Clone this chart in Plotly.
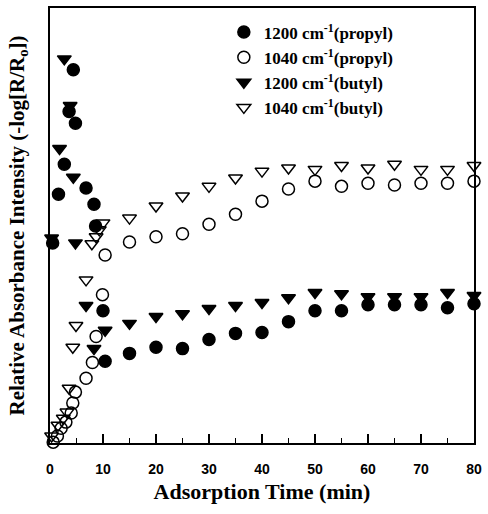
import plotly.graph_objects as go

# Adsorption time (min) and relative absorbance intensity (arbitrary units)
t_p1200 = [0.5, 1.6, 2.7, 3.6, 4.4, 4.8, 6.8, 8.3, 8.6, 10, 10.4, 15, 20, 25, 30, 35, 40, 45, 50, 55, 60, 65, 70, 75, 80]
y_p1200 = [0.460, 0.572, 0.641, 0.762, 0.858, 0.735, 0.586, 0.549, 0.499, 0.304, 0.188, 0.206, 0.220, 0.217,
           0.238, 0.252, 0.254, 0.279, 0.304, 0.304, 0.318, 0.318, 0.318, 0.311, 0.320]

t_p1040 = [0.6, 1.4, 2.1, 3, 4, 4.3, 4.8, 6.8, 8, 8.7, 9.9, 10.4, 15, 20, 25, 30, 35, 40, 45, 50, 55, 60, 65, 70, 75, 80]
y_p1040 = [0.002, 0.016, 0.034, 0.048, 0.069, 0.092, 0.117, 0.149, 0.185, 0.245, 0.341, 0.432, 0.462, 0.474,
           0.481, 0.503, 0.526, 0.556, 0.584, 0.602, 0.590, 0.597, 0.593, 0.597, 0.597, 0.602]

t_b1200 = [0.3, 1.8, 2.7, 3.8, 4.4, 4.8, 6.8, 8.3, 10.4, 15, 20, 25, 30, 35, 40, 45, 50, 55, 60, 65, 70, 75, 80]
y_b1200 = [0.471, 0.677, 0.883, 0.776, 0.611, 0.460, 0.316, 0.217, 0.259, 0.275, 0.291, 0.297, 0.309, 0.316,
           0.323, 0.334, 0.346, 0.343, 0.336, 0.336, 0.336, 0.346, 0.339]

t_b1040 = [0.3, 1.5, 2.5, 3.2, 3.6, 4.3, 4.9, 6.8, 7.9, 8.7, 9.3, 10.0, 15, 20, 25, 30, 35, 40, 45, 50, 55, 60, 65, 70, 75, 80]
y_b1040 = [0.016, 0.041, 0.057, 0.071, 0.126, 0.220, 0.270, 0.375, 0.458, 0.474, 0.490, 0.506, 0.517, 0.545,
           0.568, 0.590, 0.609, 0.625, 0.632, 0.629, 0.638, 0.632, 0.641, 0.629, 0.629, 0.638]

names = ["1200 cm<sup>-1</sup>(propyl)", "1040 cm<sup>-1</sup>(propyl)",
         "1200 cm<sup>-1</sup>(butyl)", "1040 cm<sup>-1</sup>(butyl)"]

x_ticks = [0, 10, 20, 30, 40, 50, 60, 70, 80]
x_minor = [5, 15, 25, 35, 45, 55, 65, 75]

series = [
    (t_p1200, y_p1200, "circle"),
    (t_p1040, y_p1040, "circle-open"),
    (t_b1200, y_b1200, "triangle-down"),
    (t_b1040, y_b1040, "triangle-down-open"),
]

fig = go.Figure()
for (tx, ty, sym), nm in zip(series, names):
    fig.add_trace(go.Scatter(
        x=tx, y=ty, mode="markers", name=nm, cliponaxis=False,
        marker=dict(symbol=sym, size=12, color="black", line=dict(color="black", width=1.5)),
    ))

fig.update_layout(
    width=488, height=514,
    margin=dict(l=50, r=10, t=6, b=71),
    paper_bgcolor="white", plot_bgcolor="white",
    font=dict(family="Liberation Serif", color="black"),
    showlegend=True,
    legend=dict(x=0.41, y=0.985, xanchor="left", yanchor="top",
                bgcolor="rgba(0,0,0,0)",
                font=dict(size=17, family="Liberation Serif", weight="bold"),
                tracegroupgap=0, itemwidth=30),
    xaxis=dict(
        range=[0, 80], tickmode="array", tickvals=x_ticks,
        ticks="inside", ticklen=9, tickwidth=1.5, tickcolor="black",
        minor=dict(tickvals=x_minor, ticks="inside", ticklen=5, tickwidth=1.2, tickcolor="black"),
        showline=True, linecolor="black", linewidth=1.5, mirror=True,
        showgrid=False, zeroline=False,
        tickfont=dict(family="Liberation Sans", size=14, color="black", weight="bold"),
        ticklabelstandoff=12,
        title=dict(text="<b>Adsorption Time (min)</b>", font=dict(family="Liberation Serif", size=22), standoff=8),
    ),
    yaxis=dict(
        range=[0, 1], showticklabels=False, ticks="",
        showline=True, linecolor="black", linewidth=1.5, mirror=True,
        showgrid=False, zeroline=False, automargin=False,
        title=dict(text="<b>Relative Absorbance Intensity (-log[R/R<sub>o</sub>])</b>",
                   font=dict(family="Liberation Serif", size=21), standoff=18),
    ),
)

fig.write_html("out.html", config={"displayModeBar": False},
               post_script="document.body.style.margin='0';")
